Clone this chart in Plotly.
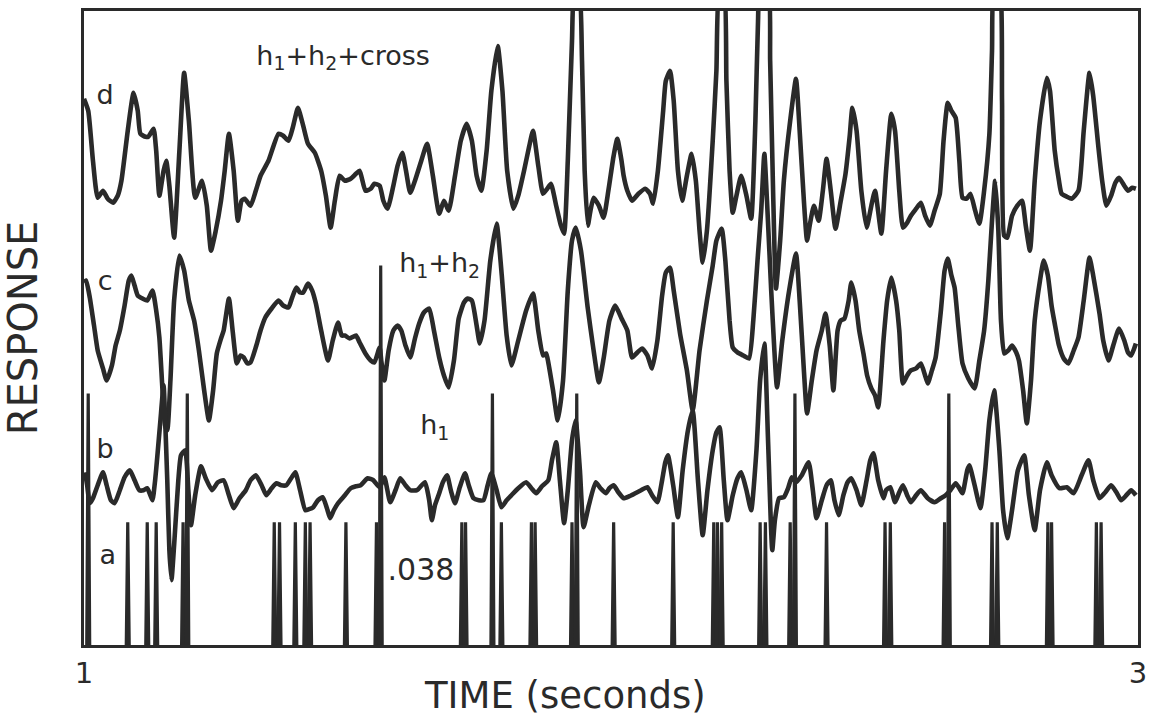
import plotly.graph_objects as go

# ---- recorded traces (time in ms after t = 1 s, response in display units) ----
# d: h1 + h2 + cross-kernel prediction
d_ms = [
    0, 8, 17, 26, 36, 45, 55, 64, 71, 83,
    94, 102, 107, 117, 122, 132, 137, 143, 151, 156,
    162, 171, 181, 190, 199, 211, 224, 233, 241, 250,
    260, 267, 275, 284, 292, 299, 305, 316, 326, 335,
    350, 369, 378, 388, 397, 406, 416, 425, 438, 450,
    459, 468, 476, 485, 495, 506, 516, 523, 534, 544,
    551, 561, 568, 576, 587, 595, 604, 611, 619, 628,
    640, 651, 662, 674, 683, 692, 704, 715, 726, 736,
    745, 754, 764, 773, 785, 794, 803, 815, 824, 835,
    845, 852, 862, 871, 879, 886, 896, 905, 911, 918,
    926, 931, 939, 945, 950, 956, 961, 967, 977, 986,
    995, 1005, 1012, 1020, 1024, 1031, 1040, 1052, 1065, 1074,
    1080, 1089, 1099, 1104, 1112, 1119, 1127, 1135, 1144, 1153,
    1161, 1168, 1174, 1182, 1193, 1200, 1206, 1214, 1219, 1225,
    1231, 1238, 1247, 1257, 1266, 1274, 1279, 1283, 1298, 1302,
    1308, 1313, 1321, 1328, 1340, 1351, 1358, 1366, 1372, 1377,
    1385, 1394, 1402, 1409, 1417, 1426, 1436, 1445, 1453, 1458,
    1466, 1475, 1485, 1494, 1501, 1513, 1522, 1532, 1539, 1547,
    1554, 1562, 1569, 1579, 1588, 1596, 1605, 1614, 1624, 1631,
    1639, 1646, 1654, 1661, 1667, 1675, 1682, 1691, 1699, 1708,
    1718, 1723, 1727, 1737, 1742, 1746, 1752, 1761, 1771, 1780,
    1787, 1795, 1804, 1814, 1827, 1833, 1842, 1850, 1855, 1865,
    1874, 1887, 1897, 1908, 1915, 1925, 1932, 1940, 1949, 1957,
    1964, 1974, 1981, 1989, 1996,
]
d_resp = [
    547, 535, 485, 448, 455, 447, 443, 450, 465, 515,
    553, 535, 512, 509, 509, 517, 495, 450, 475, 485,
    460, 408, 495, 573, 525, 448, 465, 440, 395, 415,
    445, 475, 512, 475, 425, 445, 447, 440, 455, 470,
    485, 512, 510, 505, 520, 538, 520, 502, 493, 475,
    450, 418, 445, 470, 465, 467, 472, 475, 455, 457,
    462, 460, 445, 437, 460, 480, 493, 475, 453, 465,
    485, 502, 470, 432, 445, 435, 470, 505, 522, 505,
    470, 455, 495, 555, 600, 555, 475, 437, 450, 475,
    500, 515, 480, 452, 457, 462, 440, 420, 412, 485,
    605, 660, 660, 585, 475, 420, 435, 448, 440, 428,
    455, 490, 507, 485, 470, 455, 445, 452, 457, 452,
    442, 475, 535, 565, 575, 545, 475, 445, 470, 492,
    465, 415, 383, 415, 505, 575, 660, 660, 565, 475,
    433, 450, 470, 450, 427, 525, 625, 660, 660, 585,
    445, 357, 405, 465, 525, 567, 515, 445, 405, 420,
    440, 425, 455, 487, 455, 417, 445, 472, 510, 538,
    515, 455, 418, 440, 455, 412, 475, 532, 515, 455,
    418, 423, 430, 437, 443, 430, 420, 435, 452, 505,
    543, 535, 528, 485, 448, 447, 452, 435, 422, 455,
    512, 595, 660, 660, 545, 410, 408, 430, 440, 445,
    420, 395, 465, 525, 568, 555, 495, 465, 452, 449,
    447, 455, 515, 573, 550, 498, 465, 440, 450, 463,
    468, 460, 455, 458, 457,
]

# c: h1 + h2 prediction
c_ms = [
    0, 4, 11, 19, 26, 36, 43, 53, 60, 68,
    77, 85, 90, 96, 102, 111, 120, 130, 137, 143,
    149, 154, 158, 164, 171, 181, 190, 199, 209, 218,
    228, 237, 245, 252, 260, 265, 275, 282, 290, 297,
    303, 310, 316, 327, 335, 344, 356, 369, 378, 388,
    395, 403, 410, 416, 425, 433, 440, 450, 463, 472,
    482, 489, 495, 504, 516, 523, 534, 544, 551, 561,
    564, 570, 578, 587, 595, 602, 610, 619, 628, 636,
    645, 655, 664, 674, 683, 692, 702, 711, 721, 728,
    736, 745, 751, 760, 771, 783, 792, 802, 811, 824,
    839, 852, 862, 871, 877, 881, 890, 899, 909, 918,
    926, 933, 943, 956, 967, 977, 986, 997, 1008, 1020,
    1031, 1040, 1050, 1059, 1069, 1078, 1088, 1097, 1104, 1112,
    1119, 1131, 1144, 1155, 1168, 1182, 1193, 1200, 1210, 1217,
    1225, 1231, 1240, 1251, 1262, 1270, 1278, 1285, 1291, 1296,
    1304, 1310, 1315, 1325, 1338, 1351, 1358, 1366, 1372, 1381,
    1390, 1400, 1407, 1415, 1422, 1430, 1436, 1443, 1451, 1456,
    1464, 1471, 1479, 1486, 1494, 1501, 1507, 1517, 1524, 1532,
    1541, 1547, 1554, 1562, 1569, 1579, 1588, 1596, 1601, 1609,
    1616, 1626, 1633, 1639, 1646, 1652, 1659, 1667, 1678, 1690,
    1699, 1708, 1716, 1723, 1729, 1735, 1740, 1746, 1754, 1761,
    1769, 1774, 1782, 1789, 1797, 1804, 1814, 1821, 1829, 1836,
    1842, 1850, 1859, 1868, 1878, 1887, 1897, 1908, 1915, 1927,
    1934, 1944, 1953, 1964, 1974, 1981, 1987, 1996,
]
c_resp = [
    363, 365, 348, 320, 295, 277, 265, 280, 300, 315,
    340, 365, 370, 360, 350, 347, 345, 355, 335, 308,
    255, 220, 215, 265, 345, 390, 375, 345, 325, 295,
    255, 225, 255, 292, 307, 315, 347, 315, 282, 290,
    288, 282, 283, 300, 315, 328, 337, 345, 340, 338,
    348, 358, 353, 353, 362, 355, 342, 315, 285, 305,
    323, 310, 310, 307, 310, 303, 292, 285, 283, 298,
    285, 265, 295, 315, 320, 315, 300, 288, 307, 322,
    333, 337, 315, 288, 270, 258, 285, 327, 343, 347,
    345, 320, 302, 325, 385, 422, 375, 310, 280, 305,
    335, 352, 315, 290, 292, 283, 255, 225, 265, 355,
    405, 418, 395, 337, 295, 263, 287, 325, 340, 327,
    315, 288, 293, 297, 290, 277, 305, 350, 373, 378,
    355, 312, 275, 235, 295, 345, 380, 405, 417, 385,
    325, 298, 293, 290, 287, 325, 385, 435, 492, 445,
    355, 295, 258, 305, 355, 392, 345, 275, 232, 265,
    295, 315, 332, 300, 255, 315, 325, 327, 345, 363,
    345, 315, 292, 270, 257, 250, 238, 305, 345, 368,
    345, 315, 262, 270, 275, 277, 282, 270, 262, 275,
    288, 335, 375, 387, 370, 358, 320, 282, 267, 257,
    285, 315, 365, 425, 465, 415, 325, 292, 295, 300,
    293, 285, 255, 222, 265, 325, 365, 385, 370, 340,
    322, 300, 287, 282, 295, 308, 345, 388, 370, 332,
    305, 285, 300, 317, 305, 293, 290, 302,
]

# b: h1 prediction
b_ms = [
    2, 6, 11, 17, 26, 36, 43, 51, 58, 68,
    77, 87, 96, 105, 113, 120, 126, 130, 135, 139,
    145, 151, 154, 158, 162, 166, 171, 179, 184, 192,
    198, 203, 211, 222, 231, 243, 254, 265, 275, 284,
    295, 307, 316, 326, 337, 346, 356, 365, 374, 384,
    393, 401, 410, 420, 427, 435, 444, 453, 461, 467,
    474, 482, 495, 506, 516, 525, 538, 549, 561, 570,
    581, 591, 600, 610, 619, 632, 647, 655, 660, 666,
    674, 681, 689, 696, 704, 713, 723, 730, 739, 749,
    758, 766, 773, 783, 792, 802, 811, 824, 839, 849,
    858, 869, 881, 888, 896, 903, 911, 918, 926, 933,
    941, 948, 958, 971, 980, 990, 997, 1005, 1014, 1024,
    1035, 1046, 1057, 1069, 1078, 1088, 1097, 1103, 1108, 1118,
    1127, 1136, 1146, 1155, 1165, 1174, 1183, 1193, 1200, 1206,
    1214, 1221, 1231, 1240, 1247, 1257, 1266, 1276, 1283, 1291,
    1298, 1306, 1311, 1319, 1328, 1336, 1343, 1351, 1362, 1375,
    1383, 1390, 1400, 1409, 1417, 1424, 1432, 1441, 1449, 1456,
    1466, 1475, 1485, 1492, 1498, 1507, 1517, 1522, 1530, 1539,
    1547, 1554, 1562, 1569, 1579, 1588, 1601, 1614, 1626, 1635,
    1644, 1654, 1661, 1667, 1676, 1680, 1690, 1701, 1710, 1718,
    1727, 1737, 1744, 1752, 1761, 1772, 1784, 1793, 1804, 1814,
    1827, 1836, 1851, 1865, 1878, 1893, 1906, 1915, 1927, 1938,
    1949, 1959, 1968, 1978, 1987, 1996,
]
b_resp = [
    173, 160, 142, 147, 160, 173, 160, 145, 142, 155,
    168, 175, 165, 155, 155, 157, 150, 145, 165, 188,
    225, 260, 225, 165, 95, 65, 100, 165, 190, 195,
    155, 120, 150, 179, 167, 155, 163, 165, 150, 137,
    147, 155, 165, 170, 160, 150, 157, 162, 160, 160,
    167, 173, 155, 135, 136, 138, 145, 148, 137, 127,
    135, 142, 150, 157, 159, 160, 167, 165, 158, 168,
    143, 155, 167, 160, 155, 155, 163, 145, 125, 140,
    152, 163, 170, 155, 142, 158, 172, 160, 147, 145,
    145, 160, 172, 155, 138, 145, 150, 157, 163, 157,
    152, 159, 165, 185, 203, 165, 122, 155, 205, 225,
    175, 118, 140, 163, 157, 152, 157, 160, 153, 147,
    149, 152, 155, 158, 150, 143, 165, 183, 190, 160,
    128, 175, 215, 235, 165, 110, 155, 195, 213, 218,
    165, 125, 150, 167, 173, 155, 135, 195, 265, 302,
    205, 95, 125, 147, 148, 157, 168, 163, 170, 183,
    155, 127, 145, 160, 165, 145, 130, 150, 163, 167,
    155, 140, 165, 185, 192, 165, 147, 155, 158, 143,
    153, 160, 150, 143, 150, 155, 147, 143, 147, 150,
    155, 162, 157, 152, 175, 180, 160, 137, 175, 225,
    255, 195, 135, 107, 135, 175, 190, 150, 115, 155,
    183, 170, 157, 158, 152, 170, 185, 165, 147, 153,
    160, 153, 145, 150, 155, 150,
]

# a: input impulse train (spike time in ms, spike amplitude)
spike_ms = [
    8, 83, 120, 137, 188, 196, 361, 371, 401, 420,
    429, 497, 555, 563, 717, 724, 775, 792, 849, 856,
    926, 935, 1005, 1118, 1195, 1202, 1210, 1283, 1293, 1340,
    1349, 1409, 1520, 1530, 1633, 1641, 1723, 1733, 1829, 1836,
    1921, 1930,
]
spike_height = [
    252, 123, 123, 123, 123, 252, 123, 123, 123, 123,
    123, 123, 123, 380, 123, 123, 252, 123, 123, 123,
    123, 252, 123, 123, 123, 123, 123, 123, 123, 123,
    252, 123, 123, 123, 123, 252, 123, 123, 123, 123,
    123, 123,
]

# trace names and their placement (time in s, response units)
trace_labels = ["d", "c", "b", "a"]
trace_label_t = [1.040, 1.040, 1.040, 1.045]
trace_label_y = [549, 362, 194, 88]
kernel_labels = ["h<sub>1</sub>+h<sub>2</sub>+cross",
                 "h<sub>1</sub>+h<sub>2</sub>", "h<sub>1</sub>", ".038"]
kernel_label_t = [1.327, 1.598, 1.638, 1.576]
kernel_label_y = [588, 380, 218, 73]

x_ticks = [1, 3]
x_tick_text = ["1", "3"]

INK = "#2a2a2a"
FONT = "DejaVu Sans"


def seconds(ms_list):
    return [1 + m / 1000.0 for m in ms_list]


fig = go.Figure()

for ms, resp in ((d_ms, d_resp), (c_ms, c_resp), (b_ms, b_resp)):
    assert len(ms) == len(resp)
    fig.add_trace(go.Scatter(
        x=seconds(ms), y=resp, mode="lines",
        line=dict(color=INK, width=4.6, shape="spline", smoothing=0.5),
        hoverinfo="skip", showlegend=False,
    ))

# impulse train drawn as narrow triangular spikes from the baseline
half_w = 0.0028
sx, sy = [], []
for t, h in zip(seconds(spike_ms), spike_height):
    sx += [t - half_w, t, t + half_w, None]
    sy += [0, h, 0, None]
fig.add_trace(go.Scatter(
    x=sx, y=sy, mode="lines",
    line=dict(color=INK, width=3.2),
    hoverinfo="skip", showlegend=False,
))

# in-plot lettering
fig.add_trace(go.Scatter(
    x=trace_label_t, y=trace_label_y, text=trace_labels, mode="text",
    textposition="middle center",
    textfont=dict(family=FONT, size=27, color=INK),
    hoverinfo="skip", showlegend=False, cliponaxis=False,
))
fig.add_trace(go.Scatter(
    x=kernel_label_t, y=kernel_label_y, text=kernel_labels, mode="text",
    textposition="middle right",
    textfont=dict(family=FONT, size=[27, 27, 27, 30], color=INK),
    hoverinfo="skip", showlegend=False, cliponaxis=False,
))

fig.add_annotation(x=1.9125, y=-0.079, xref="x", yref="paper",
                   text="TIME (seconds)", showarrow=False,
                   xanchor="center", yanchor="middle",
                   font=dict(family=FONT, size=37, color=INK))

fig.update_layout(
    width=1155, height=718,
    margin=dict(l=84, r=8, t=10, b=73),
    font=dict(family=FONT, size=27, color=INK),
    paper_bgcolor="white", plot_bgcolor="white",
    xaxis=dict(range=[1, 3], showline=True, mirror=True, linecolor=INK,
               linewidth=2.5, showgrid=False, zeroline=False,
               tickvals=x_ticks, ticktext=x_tick_text, ticks="",
               tickfont=dict(family=FONT, size=29, color=INK)),
    yaxis=dict(range=[0, 635], showline=True, mirror=True, linecolor=INK,
               linewidth=2.5, showgrid=False, zeroline=False,
               showticklabels=False, ticks="",
               title=dict(text="RESPONSE", standoff=33,
                          font=dict(family=FONT, size=40, color=INK))),
)

fig.write_html("out.html")
